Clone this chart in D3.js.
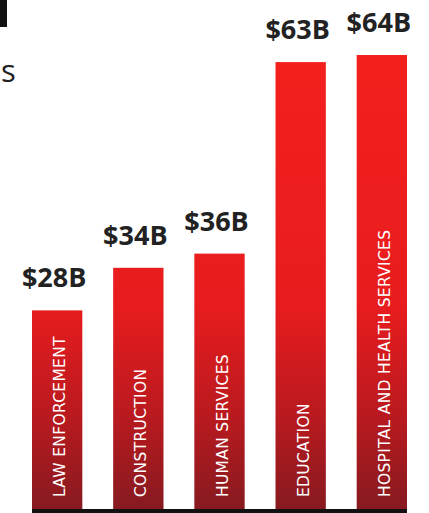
<!DOCTYPE html>
<html><head><meta charset="utf-8">
<script src="https://cdn.jsdelivr.net/npm/d3@7"></script>
<style>html,body{margin:0;padding:0;background:#fff;}svg{display:block;}</style>
</head><body>
<script>
const categories = ["LAW ENFORCEMENT","CONSTRUCTION","HUMAN SERVICES","EDUCATION","HOSPITAL AND HEALTH SERVICES"];
const values = [28, 34, 36, 63, 64];
const valueLabels = ["$28B","$34B","$36B","$63B","$64B"];

const W = 429, H = 513;
const svg = d3.select("body").append("svg").attr("width", W).attr("height", H);

const baseY = 509;
const x = d3.scaleBand().domain(categories).range([32, 407]).paddingInner(0.38).paddingOuter(0);
const y = d3.scaleLinear().domain([0, 64]).range([baseY, 55]);

const defs = svg.append("defs");
const grad = defs.append("linearGradient").attr("id","g").attr("gradientUnits","userSpaceOnUse")
  .attr("x1",0).attr("x2",0).attr("y1",55).attr("y2",baseY);
grad.append("stop").attr("offset","0%").attr("stop-color","#f3201d");
grad.append("stop").attr("offset","55%").attr("stop-color","#e81c1e");
grad.append("stop").attr("offset","80%").attr("stop-color","#b81a1f");
grad.append("stop").attr("offset","100%").attr("stop-color","#861a20");

// cropped title remnants
svg.append("rect").attr("x",0).attr("y",0).attr("width",7).attr("height",27).attr("fill","#111");
svg.append("text").attr("x",1).attr("y",82).attr("font-family","'Open Sans', sans-serif")
  .attr("font-size",31).attr("fill","#222").text("s");

svg.selectAll("rect.bar").data(values).join("rect").attr("class","bar")
  .attr("x",(d,i)=>x(categories[i])).attr("width",x.bandwidth())
  .attr("y",d=>y(d)).attr("height",d=>baseY-y(d)).attr("fill","url(#g)");

svg.append("line").attr("x1",32).attr("x2",407).attr("y1",baseY+2).attr("y2",baseY+2)
  .attr("stroke","#111").attr("stroke-width",4);

svg.selectAll("text.val").data(values).join("text").attr("class","val")
  .attr("x",(d,i)=>x(categories[i])+x.bandwidth()/2-3).attr("y",d=>y(d)-23)
  .attr("text-anchor","middle").attr("font-family","'Open Sans', sans-serif").attr("font-weight",700)
  .attr("font-size",27).attr("fill","#222").text((d,i)=>valueLabels[i]);

svg.selectAll("text.cat").data(categories).join("text").attr("class","cat")
  .attr("transform",d=>`translate(${x(d)+x.bandwidth()/2+3},${baseY-12}) rotate(-90)`)
  .attr("dominant-baseline","central")
  .attr("font-family","'DejaVu Sans', sans-serif").attr("font-size",15.5).attr("letter-spacing",0.3)
  .attr("fill","#fff").text(d=>d);
</script>
</body></html>
